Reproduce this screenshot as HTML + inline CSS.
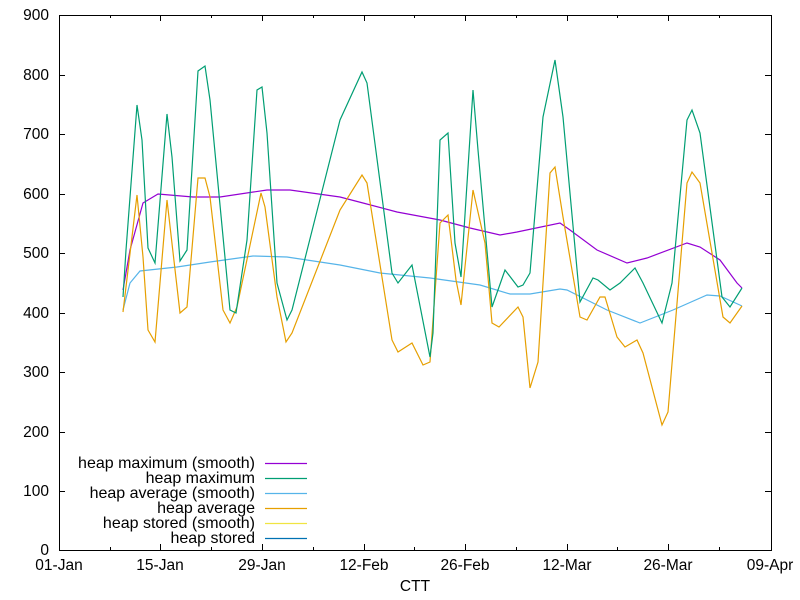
<!DOCTYPE html>
<html><head><style>body{margin:0;background:#fff}svg{display:block}text{font-family:"Liberation Sans",sans-serif;font-size:15.5px;fill:#000}.lg text{font-size:16px}</style></head>
<body>
<svg width="800" height="600" viewBox="0 0 800 600">
<rect width="800" height="600" fill="#fff"/>
<g stroke="#000" stroke-width="1" fill="none">
<rect x="59.5" y="15.5" width="712" height="535"/>
<path d="M59 491.5h6M771 491.5h-6M59 432.5h6M771 432.5h-6M59 372.5h6M771 372.5h-6M59 313.5h6M771 313.5h-6M59 253.5h6M771 253.5h-6M59 194.5h6M771 194.5h-6M59 134.5h6M771 134.5h-6M59 75.5h6M771 75.5h-6"/>
<path d="M160.5 550v-6M160.5 15v6M262.5 550v-6M262.5 15v6M364.5 550v-6M364.5 15v6M465.5 550v-6M465.5 15v6M567.5 550v-6M567.5 15v6M668.5 550v-6M668.5 15v6"/>
<path d="M110.5 550v-3M110.5 15v3M211.5 550v-3M211.5 15v3M313.5 550v-3M313.5 15v3M414.5 550v-3M414.5 15v3M516.5 550v-3M516.5 15v3M617.5 550v-3M617.5 15v3M719.5 550v-3M719.5 15v3"/>
</g>
<g text-anchor="end">
<text x="49" y="555">0</text><text x="49" y="496">100</text><text x="49" y="437">200</text><text x="49" y="377">300</text><text x="49" y="318">400</text><text x="49" y="258">500</text><text x="49" y="199">600</text><text x="49" y="139">700</text><text x="49" y="80">800</text><text x="49" y="20">900</text>
</g>
<g text-anchor="middle">
<text x="59" y="570">01-Jan</text><text x="160" y="570">15-Jan</text><text x="262" y="570">29-Jan</text><text x="364" y="570">12-Feb</text><text x="465" y="570">26-Feb</text><text x="567" y="570">12-Mar</text><text x="668" y="570">26-Mar</text><text x="770" y="570">09-Apr</text>
<text x="415" y="591">CTT</text>
</g>
<g fill="none" stroke-width="1.2">
<polyline stroke="#56b4e9" points="123,310 130,283 140,271 177,267 210,262 253,256 287,257 340,265 380,273 430,278 480,285 510,294 530,294 560,289 567,290 607,310 640,323 673,310 707,295 720,296 742,306"/>
<polyline stroke="#9400d3" points="123,290 130,250 143,203 158,194 193,197 220,197 267,190 290,190 340,197 363,203 397,212 440,220 470,228 500,235 517,232 560,223 570,230 597,250 627,263 647,258 687,243 700,247 720,260 737,283 742,288"/>
<polyline stroke="#e69f00" points="123,312 137,195 143,257 148,330 155,342 167,200 180,313 187,307 198,178 205,178 210,197 223,310 230,323 237,307 261,193 265,207 277,297 286,342 292,333 340,210 362,175 367,183 392,340 398,352 412,343 423,365 430,362 440,223 448,215 456,280 461,305 473,190 485,243 492,323 499,327 518,307 523,317 530,388 538,362 550,173 555,167 563,217 580,317 587,320 600,297 605,297 617,337 625,347 637,340 643,353 662,425 668,412 687,183 692,172 700,183 723,317 730,323 742,306"/>
<polyline stroke="#009e73" points="123,297 126,250 137,105 142,140 148,248 155,263 167,114 172,157 180,261 187,250 198,71 205,66 210,100 230,310 236,313 247,240 257,90 262,87 267,133 277,283 287,320 292,310 340,120 362,72 367,83 392,273 398,283 412,265 430,357 433,333 440,140 448,133 455,243 461,277 473,90 478,150 492,307 505,270 518,287 523,285 530,273 543,117 555,60 563,117 580,302 593,278 598,280 610,290 620,283 635,268 643,283 662,323 672,283 687,120 692,110 700,133 722,297 730,307 742,288"/>
</g>
<g text-anchor="end" class="lg">
<text x="255" y="468">heap maximum (smooth)</text>
<text x="255" y="483">heap maximum</text>
<text x="255" y="498">heap average (smooth)</text>
<text x="255" y="513">heap average</text>
<text x="255" y="528">heap stored (smooth)</text>
<text x="255" y="543">heap stored</text>
</g>
<g stroke-width="1.2">
<line x1="265" y1="463.5" x2="307" y2="463.5" stroke="#9400d3"/>
<line x1="265" y1="478.5" x2="307" y2="478.5" stroke="#009e73"/>
<line x1="265" y1="493.5" x2="307" y2="493.5" stroke="#56b4e9"/>
<line x1="265" y1="508.5" x2="307" y2="508.5" stroke="#e69f00"/>
<line x1="265" y1="523.5" x2="307" y2="523.5" stroke="#f0e442"/>
<line x1="265" y1="538.5" x2="307" y2="538.5" stroke="#0072b2"/>
</g>
</svg>
</body></html>
